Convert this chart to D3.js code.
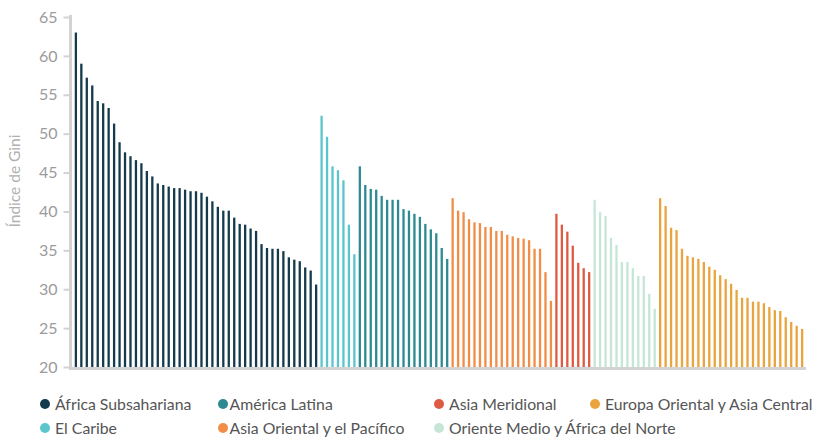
<!DOCTYPE html>
<html>
<head>
<meta charset="utf-8">
<script src="https://cdn.jsdelivr.net/npm/d3@7"></script>
<style>
  html, body { margin: 0; padding: 0; background: #fff; }
  svg { display: block; font-family: Lato, "Open Sans", sans-serif; }
</style>
</head>
<body>
<svg id="chart" width="815" height="437"></svg>
<script>
// ---- Data ----
const regions = [
  "África Subsahariana", "El Caribe", "América Latina",
  "Asia Oriental y el Pacífico", "Asia Meridional",
  "Oriente Medio y África del Norte", "Europa Oriental y Asia Central"
];
const colors = ["#143a4b", "#5bc5cc", "#2d8a91", "#f28d48", "#de5a42", "#c5e6d7", "#e9a43e"];

const africa = [63.0, 59.0, 57.2, 56.2, 54.2, 53.9, 53.3, 51.3, 48.9, 47.6, 47.1, 46.6, 46.2, 45.2, 44.5,
  43.6, 43.4, 43.2, 43.0, 43.0, 42.8, 42.6, 42.6, 42.4, 41.9, 41.3, 40.6, 40.1, 40.1, 39.2,
  38.4, 38.3, 37.8, 37.5, 35.8, 35.3, 35.2, 35.2, 34.9, 34.1, 33.8, 33.6, 32.8, 32.4, 30.6];
const caribe = [52.3, 49.6, 45.8, 45.3, 44.0, 38.3, 34.5];
const latinAmerica = [45.8, 43.4, 42.9, 42.8, 42.0, 41.5, 41.5, 41.5, 40.3, 40.1, 39.7, 39.3, 38.4, 37.7, 37.2, 35.3, 33.9];
const eastAsiaPacific = [41.7, 40.1, 39.9, 39.0, 38.6, 38.5, 38.0, 38.0, 37.5, 37.5, 37.0, 36.8, 36.6, 36.5, 36.3, 35.2, 35.2, 32.2, 28.5];
const southAsia = [39.7, 38.3, 37.4, 35.6, 33.4, 32.7, 32.2];
const middleEast = [41.5, 39.9, 39.4, 36.6, 35.7, 33.5, 33.5, 32.7, 31.7, 31.7, 29.4, 27.5];
const easternEurope = [41.7, 40.7, 37.9, 37.6, 35.2, 34.3, 34.1, 33.9, 33.5, 32.9, 32.5, 31.8, 31.3, 30.7, 29.9,
  28.9, 28.9, 28.4, 28.4, 28.2, 27.7, 27.3, 27.2, 26.4, 25.8, 25.3, 24.9];
const seriesValues = [africa, caribe, latinAmerica, eastAsiaPacific, southAsia, middleEast, easternEurope];
const yTicks = [20, 25, 30, 35, 40, 45, 50, 55, 60, 65];

// legend layout: [region index, column, row]
const legendItems = [
  [0, 0, 0], [2, 1, 0], [4, 2, 0], [6, 3, 0],
  [1, 0, 1], [3, 1, 1], [5, 2, 1]
];

// ---- Build rows ----
const rows = [];
seriesValues.forEach((vals, r) => vals.forEach((v, i) => rows.push({ id: r + "_" + i, region: r, value: v })));

const svg = d3.select("#chart");
const x0 = 72, x1 = 806, yTop = 17, yBottom = 367;

const x = d3.scaleBand()
  .domain(rows.map(d => d.id))
  .range([x0, x1])
  .paddingInner(0.58)
  .paddingOuter(0.5);

const y = d3.scaleLinear().domain([20, 65]).range([yBottom, yTop]);

// bars
svg.append("g").selectAll("rect")
  .data(rows)
  .enter().append("rect")
  .attr("x", d => x(d.id))
  .attr("width", x.bandwidth())
  .attr("y", d => y(d.value))
  .attr("height", d => y(20) - y(d.value))
  .attr("fill", d => colors[d.region]);

// y axis
const yAxis = d3.axisLeft(y).tickValues(yTicks).tickSize(7).tickPadding(6);
const gy = svg.append("g").attr("transform", `translate(${x0 - 1.5},0)`).call(yAxis);
gy.select(".domain").attr("stroke", "#d3d3d3").attr("stroke-width", 3).attr("d", `M0,${yTop - 2}V${yBottom + 1.5}`);
gy.selectAll(".tick line").attr("stroke", "#d3d3d3").attr("stroke-width", 2);
gy.selectAll(".tick text").attr("fill", "#9b9b9b").style("font-size", "16px").style("font-family", "Lato, 'Open Sans', sans-serif");

// x axis line
svg.append("line")
  .attr("x1", x0 - 3).attr("x2", x1)
  .attr("y1", yBottom + 1.5).attr("y2", yBottom + 1.5)
  .attr("stroke", "#d3d3d3").attr("stroke-width", 3);

// y title
svg.append("text")
  .attr("transform", `translate(20,181) rotate(-90)`)
  .attr("text-anchor", "middle")
  .attr("fill", "#b0b0b0")
  .style("font-size", "15.5px")
  .text("Índice de Gini");

// legend
const colX = [45, 223, 439, 595];
const rowY = [404, 428];
const lg = svg.append("g").selectAll("g")
  .data(legendItems)
  .enter().append("g")
  .attr("transform", d => `translate(${colX[d[1]]},${rowY[d[2]]})`);
lg.append("circle").attr("r", 5).attr("fill", d => colors[d[0]]);
lg.append("text")
  .attr("x", d => d[1] === 1 ? 6.5 : 10)
  .attr("dy", "0.35em")
  .attr("fill", "#555")
  .style("font-size", "15.8px")
  .text(d => regions[d[0]]);
</script>
</body>
</html>
